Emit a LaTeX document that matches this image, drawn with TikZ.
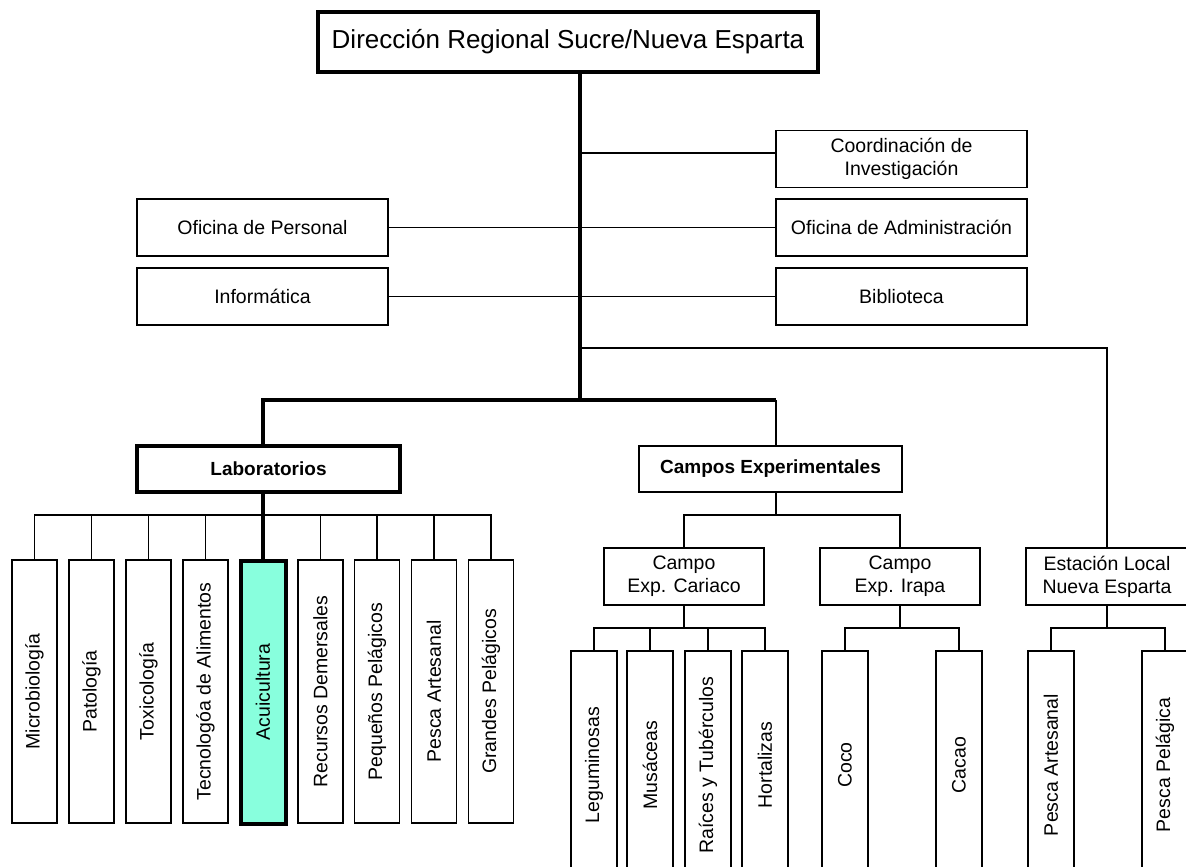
\documentclass[tikz,border=0pt]{standalone}
\usepackage{fontspec}
\setmainfont{Liberation Sans}
\definecolor{aquafill}{RGB}{136,255,221}
\begin{document}
\begin{tikzpicture}[x=1pt,y=-1pt,
  box/.style={draw,line width=1.5pt,inner sep=0pt,align=center,font=\fontsize{19.5}{23}\selectfont},
  thickbox/.style={box,line width=4pt},
  vbox/.style={box,rotate=90},
  labbox/.style={vbox,minimum width=263,minimum height=45},
  leafbox/.style={vbox,minimum width=228,minimum height=46},
  midbox/.style={box,minimum width=251,minimum height=57},
  campbox/.style={box,minimum width=160,minimum height=57},
  ln/.style={line width=1.5pt},
  tk/.style={line width=4pt}]
\useasboundingbox (0,0) rectangle (1186,867);
\clip (0,0) rectangle (1186,867);

% top
\node[thickbox,minimum width=500,minimum height=60,font=\fontsize{26}{30}\selectfont] (dir) at (568,42) {Dirección Regional Sucre/Nueva Esparta};

\node[midbox] (coord) at (901.5,159) {Coordinación de\\Investigación};
\node[midbox] (pers) at (262.5,227.5) {Oficina de Personal};
\node[midbox] (adm) at (901.5,227.5) {Oficina de Administración};
\node[midbox] (inf) at (262.5,296.5) {Informática};
\node[midbox] (bib) at (901.5,296.5) {Biblioteca};

\node[thickbox,minimum width=263,minimum height=46,font=\fontsize{19}{23}\selectfont\bfseries] (lab) at (268.5,469) {Laboratorios};
\node[box,minimum width=263,minimum height=46,font=\fontsize{19}{23}\selectfont\bfseries] (camp) at (770.5,469) {Campos Experimentales};

% lab leaves
\node[labbox] (l1) at (34.5,691.5) {Microbiología};
\node[labbox] (l2) at (91.5,691.5) {Patología};
\node[labbox] (l3) at (148.5,691.5) {Toxicología};
\node[labbox] (l4) at (205.5,691.5) {Tecnologóa de Alimentos};
\node[labbox,line width=4pt,fill=aquafill] (l5) at (263,692) {Acuicultura};
\node[labbox] (l6) at (320.5,691.5) {Recursos Demersales};
\node[labbox] (l7) at (377,691.5) {Pequeños Pelágicos};
\node[labbox] (l8) at (434,691.5) {Pesca Artesanal};
\node[labbox] (l9) at (491,691.5) {Grandes Pelágicos};

% campos
\node[campbox] (cari) at (684,576.5) {Campo\\Exp. Cariaco};
\node[campbox] (ira) at (900,576.5) {Campo\\Exp. Irapa};
\node[box,minimum width=162,minimum height=57] (est) at (1107,576.5) {Estación Local\\Nueva Esparta};

\node[leafbox] (r1) at (594,765) {Leguminosas};
\node[leafbox] (r2) at (650,765) {Musáceas};
\node[leafbox] (r3) at (708,765) {Raíces y Tubérculos};
\node[leafbox] (r4) at (765,765) {Hortalizas};
\node[leafbox] (s1) at (845,765) {Coco};
\node[leafbox] (s2) at (959,765) {Cacao};
\node[leafbox] (t1) at (1051,765) {Pesca Artesanal};
\node[leafbox] (t2) at (1165,765) {Pesca Pelágica};

% connectors
\coordinate (j1) at (580,400);
\coordinate (e0) at (580,348);
\draw[tk] (dir.south -| j1) -- (j1);
\coordinate (cw) at ([yshift=6pt]coord.west);
\draw[ln] (cw) -- (cw -| j1);
\draw[ln] (pers.east) -- (pers.east -| j1);
\draw[ln] (inf.east) -- (inf.east -| j1);
\draw[ln] (adm.west) -- (adm.west -| j1);
\draw[ln] (bib.west) -- (bib.west -| j1);
\draw[ln] (e0) -| (est.north);
\coordinate (cx) at (776,400);
\draw[tk] (lab.north -| l5.east) |- (cx);
\draw[ln] (cx) -- (camp.north -| cx);

\coordinate (lb) at (263,515);
\draw[ln] (l1.east) |- (lb) -| (l9.east);
\foreach \i in {2,3,4,6,7,8} \draw[ln] (l\i.east) -- (l\i.east |- lb);
\draw[tk] (lab.south -| l5.east) -- (l5.east);

\coordinate (cb) at (776,515);
\draw[ln] (camp.south -| cb) -- (cb);
\draw[ln] (cari.north) |- (cb) -| (ira.north);

\coordinate (kb) at (684,628);
\draw[ln] (cari.south) -- (kb);
\draw[ln] (r1.east) |- (kb) -| (r4.east);
\draw[ln] (r2.east) -- (r2.east |- kb);
\draw[ln] (r3.east) -- (r3.east |- kb);

\coordinate (ib) at (900,628);
\draw[ln] (ira.south) -- (ib);
\draw[ln] (s1.east) |- (ib) -| (s2.east);

\coordinate (tb) at (1107,628);
\draw[ln] (est.south) -- (tb);
\draw[ln] (t1.east) |- (tb) -| (t2.east);
\end{tikzpicture}
\end{document}
